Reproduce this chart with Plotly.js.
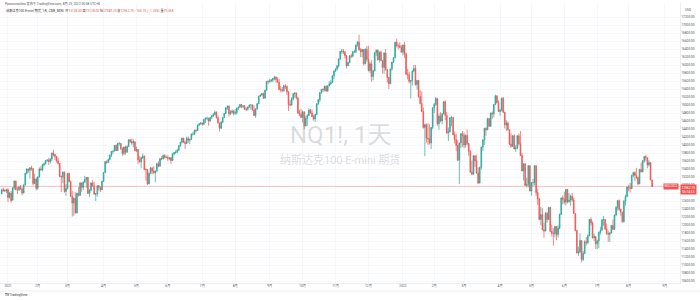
<!DOCTYPE html>
<html><head><meta charset="utf-8">
<script src="https://cdn.plot.ly/plotly-3.0.1.min.js"></script>
<style>html,body{margin:0;padding:0;background:#fff;}#chart{width:700px;height:300px;}</style>
</head><body><div id="chart"></div>
<script>
// ---- data (NQ1!, daily, 2020-12-28 .. 2022-08-22) ----
const startDate = '2020-12-28';
const holidays = ['2021-01-01','2021-01-18','2021-02-15','2021-04-02','2021-05-31','2021-07-05','2021-09-06','2021-11-25','2021-12-24','2022-01-17','2022-02-21','2022-04-15','2022-05-30','2022-06-20','2022-07-04','2022-09-05'];

const open = [
12780,12885,12860,12850,
12880,12690,12800,12620,12930,13100,12890,12880,12950,12900,12800,13000,13290,13400,13370,13430,13410,13040,13150,
12920,13200,13400,13380,13510,13530,13610,13620,13590,13650,13800,13760,13710,13600,13540,13210,13200,13320,12840,
12910,13290,13090,12720,12550,12670,12300,12790,12740,13050,12940,13070,13140,13190,12790,12870,13050,12980,12770,12780,12980,12940,12880,
13090,13310,13580,13560,13640,13750,13840,13850,13990,13860,14040,14040,13910,13790,13950,13820,13960,14130,14090,14050,14080,
13860,13890,13630,13580,13680,13720,13390,13380,13030,13290,13430,13350,13300,13350,13530,13470,13660,13650,13740,13690,
13690,13660,13680,13610,13780,13810,13820,13870,13980,14070,14170,14070,14040,14160,14120,14140,14270,14270,14370,14360,14500,14530,
14550,14520,14640,14670,14670,14600,14690,14730,14760,14820,14690,14550,14420,14570,14690,14790,14930,14970,14780,14820,14850,
14790,14810,14920,14950,15010,14960,14970,14890,14890,14950,15000,15000,14880,14740,14900,15030,15220,15250,15290,15170,15370,15590,
15580,15600,15620,15660,15700,15640,15570,15390,15380,15360,15480,15460,15330,15010,15000,15150,15280,15300,15180,14800,14760,
14690,14830,14480,14670,14740,14870,14800,14710,14650,14760,15030,15130,15310,15390,15380,15470,15350,15480,15530,15560,15730,
15850,15900,15980,16150,16340,16350,16320,16230,15980,16060,16230,16220,16330,16330,16500,16570,16380,16330,16390,16030,16390,
16140,15860,16030,15710,15850,16310,16370,16130,16320,16110,15940,16300,15880,15690,15530,15900,16070,16180,16570,16480,16480,16440,
16320,16500,16280,15770,15760,15590,15610,15850,15910,15510,15610,15210,15040,14840,14440,14510,14170,14150,14050,14440,
14930,15020,15160,14530,14720,14600,14780,15080,14740,14300,14330,14680,14690,14260,14130,13990,13620,14050,14280,
14240,14000,14240,14040,13840,13320,13270,13730,13600,13300,13050,13440,13950,14130,14420,14380,14660,14470,14800,14780,15010,15230,15060,
14840,14860,15170,14820,14500,14550,14380,14020,13970,14230,13900,13930,14230,14030,13740,13350,13530,12990,13010,13480,
12850,13060,13060,13480,12810,12650,12140,12260,11880,11850,12290,12140,12440,11840,11790,11780,11960,11760,11920,12260,12680,
12640,12570,12890,12580,12620,12720,12630,12290,11860,11300,11330,11610,11140,11290,11580,11560,11730,12140,12050,11680,11710,
11530,11600,11820,11870,12130,12140,11900,11790,11770,11800,11990,11890,12250,12440,12610,12390,12320,12080,12600,12710,
12950,12940,12910,13240,13310,13240,13190,13030,13390,13330,13610,13710,13680,13500,13560,13128
];
const high = [
12905,12935,12900,12905,
12920,12830,12850,12950,13110,13110,12950,12980,13000,12940,13020,13310,13420,13410,13450,13480,13420,13280,13190,
13220,13440,13470,13520,13560,13620,13650,13680,13670,13810,13880,13780,13730,13690,13550,13240,13340,13340,13020,
13300,13310,13110,12860,12690,12820,12810,12950,13080,13060,13090,13230,13200,13200,12900,13070,13120,13080,12800,12990,13000,12960,13110,
13320,13600,13620,13660,13760,13850,13860,14000,14010,14050,14070,14050,13940,13960,13980,13990,14140,14150,14160,14140,14090,
13960,13900,13720,13710,13790,13740,13420,13400,13310,13450,13440,13470,13360,13560,13590,13680,13720,13760,13770,13740,
13740,13700,13700,13790,13830,13870,13900,13990,14080,14180,14180,14100,14210,14210,14160,14290,14320,14380,14390,14510,14550,14570,
14560,14650,14690,14710,14680,14700,14740,14800,14860,14840,14730,14560,14600,14700,14800,14940,14990,14980,14870,14890,14870,
14900,14930,14960,15020,15030,15000,15000,14940,14960,15010,15020,15010,14990,14920,15050,15230,15270,15300,15310,15380,15600,15620,
15650,15650,15680,15720,15710,15690,15650,15470,15450,15500,15520,15490,15340,15120,15200,15300,15320,15310,15190,14880,14900,
14860,14840,14730,14770,14920,14900,14890,14760,14780,15040,15150,15320,15400,15420,15480,15490,15490,15590,15620,15740,15860,
15920,16000,16170,16350,16400,16400,16350,16250,16080,16240,16280,16350,16380,16510,16600,16760,16420,16400,16400,16420,16480,
16480,16080,16120,15880,16330,16390,16380,16340,16360,16130,16320,16400,15900,15700,15910,16080,16200,16580,16660,16540,16570,16500,
16510,16580,16310,15900,15830,15620,15860,16000,16000,15620,15630,15370,15340,14940,14530,14540,14540,14520,14450,14940,
15050,15200,15170,14780,14820,14790,15100,15120,14820,14440,14690,14720,14700,14340,14280,14120,14060,14300,14350,
14310,14270,14390,14050,13880,13610,13750,13740,13760,13440,13460,13960,14140,14430,14440,14680,14670,14810,14840,15020,15260,15240,15120,
14910,15180,15200,14830,14620,14590,14390,14290,14250,14270,14000,14250,14290,14350,13800,13540,13540,13180,13500,13500,
13070,13150,13500,13490,12900,12680,12450,12420,12060,12330,12330,12460,12450,12010,11920,11980,11970,11990,12290,12680,12740,
12830,12900,12900,12800,12760,12800,12690,12300,11880,11460,11790,11620,11350,11620,11700,11770,12150,12190,12090,11780,11720,
11630,11830,11960,12140,12230,12150,12040,11860,11830,12000,12140,12260,12470,12620,12640,12410,12330,12620,12760,12960,
13010,13050,13260,13330,13340,13430,13200,13400,13560,13620,13720,13760,13680,13620,13570,13128
];
const low = [
12770,12830,12830,12800,
12580,12660,12560,12610,12880,12860,12770,12850,12880,12740,12790,12990,13270,13300,13160,13360,12990,13020,12860,
12880,13190,13360,13340,13460,13510,13580,13500,13540,13600,13720,13620,13560,13510,13200,12820,13040,12810,12730,
12890,13070,12700,12210,12230,12290,12290,12710,12730,12830,12870,13060,12930,12780,12700,12840,12960,12760,12600,12710,12860,12820,12870,
13080,13300,13530,13550,13620,13700,13780,13840,13850,13850,13990,13870,13730,13740,13760,13810,13950,14050,14000,13940,13840,
13820,13520,13560,13420,13650,13370,13110,13000,13020,13270,13260,13290,13070,13330,13440,13460,13620,13640,13660,13670,
13600,13620,13530,13600,13740,13770,13800,13860,13960,14040,14050,13900,14020,14050,14020,14130,14240,14260,14310,14350,14480,14500,
14480,14510,14550,14620,14480,14580,14650,14700,14740,14660,14540,14340,14400,14540,14670,14780,14880,14710,14750,14780,14740,
14760,14760,14870,14920,14920,14920,14870,14850,14860,14930,14880,14860,14720,14680,14880,15020,15200,15230,15150,15160,15360,15520,
15560,15570,15570,15620,15560,15560,15370,15320,15320,15330,15400,15250,14850,14970,14980,15110,15180,15140,14780,14720,14680,
14560,14400,14460,14480,14730,14780,14700,14610,14580,14750,15000,15070,15280,15320,15340,15320,15330,15470,15500,15550,15640,
15820,15860,15930,16130,16280,16270,16160,15910,15970,16040,16170,16190,16300,16300,16460,16360,16200,16190,15980,16020,16080,
15840,15800,15580,15620,15840,16220,16110,16060,16100,15790,15780,15860,15560,15400,15520,15850,16060,16170,16440,16390,16420,16310,
16240,16180,15760,15640,15540,15160,15480,15820,15480,15380,15180,15020,14820,14410,13720,14060,14000,14010,13900,14400,
14800,14980,14480,14380,14570,14520,14770,14620,14270,14100,14320,14470,14240,14040,13840,13600,13020,13920,13950,
13920,13930,13990,13730,13310,13240,13260,13450,13280,13020,13040,13390,13850,14000,14230,14370,14450,14460,14650,14690,15000,15040,14830,
14730,14840,14800,14410,14350,14360,14000,13930,13960,13890,13830,13890,13990,13720,13340,13110,12980,12940,12940,12840,
12730,12970,12990,12730,12500,12120,11990,11870,11680,11840,12060,12130,11830,11710,11480,11690,11620,11690,11890,12250,12520,
12520,12490,12540,12560,12480,12580,12280,11840,11290,11230,11290,11070,11100,11270,11480,11520,11720,11990,11660,11600,11400,
11400,11420,11760,11860,11980,11880,11750,11580,11580,11790,11880,11880,12220,12360,12350,12230,12050,12070,12480,12700,
12840,12810,12900,13200,13100,13150,12990,13020,13310,13320,13550,13590,13420,13460,13120,12949
];
const close = [
12880,12860,12850,12880,
12690,12800,12610,12930,13100,12890,12880,12950,12900,12800,13000,13290,13400,13370,13430,13410,13040,13150,12920,
13200,13400,13380,13510,13530,13610,13620,13590,13650,13800,13760,13710,13600,13540,13210,13200,13320,12840,12910,
13290,13090,12720,12550,12670,12300,12790,12740,13050,12940,13070,13140,13190,12790,12870,13050,12980,12770,12780,12980,12940,12880,13090,
13310,13580,13560,13640,13750,13840,13850,13990,13860,14040,14040,13910,13790,13950,13820,13960,14130,14090,14050,14080,13860,
13890,13630,13580,13680,13720,13390,13380,13030,13290,13430,13350,13300,13350,13530,13470,13660,13650,13740,13690,13690,
13660,13680,13610,13780,13810,13820,13870,13980,14070,14170,14070,14040,14160,14120,14140,14270,14270,14370,14360,14500,14530,14550,
14520,14640,14670,14670,14600,14690,14730,14760,14820,14690,14550,14420,14570,14690,14790,14930,14970,14780,14820,14850,14790,
14810,14920,14950,15010,14960,14970,14890,14890,14950,15000,15000,14880,14740,14900,15030,15220,15250,15290,15170,15370,15590,15580,
15600,15620,15660,15700,15640,15570,15390,15380,15360,15480,15460,15330,15010,15000,15150,15280,15300,15180,14800,14760,14690,
14830,14480,14670,14740,14870,14800,14710,14650,14760,15030,15130,15310,15390,15380,15470,15350,15480,15530,15560,15730,15850,
15900,15980,16150,16340,16350,16320,16230,15980,16060,16230,16220,16330,16330,16500,16570,16380,16330,16390,16030,16390,16140,
15860,16030,15710,15850,16310,16370,16130,16320,16110,15940,16300,15880,15690,15530,15900,16070,16180,16570,16480,16480,16440,16320,
16500,16280,15770,15760,15590,15610,15850,15910,15510,15610,15210,15040,14840,14440,14510,14170,14150,14050,14440,14930,
15020,15160,14530,14720,14600,14780,15080,14740,14300,14330,14680,14690,14260,14130,13990,13620,14050,14280,14240,
14000,14240,14040,13840,13320,13270,13730,13600,13300,13050,13440,13950,14130,14420,14380,14660,14470,14800,14780,15010,15230,15060,14840,
14860,15170,14820,14500,14550,14380,14020,13970,14230,13900,13930,14230,14030,13740,13350,13530,12990,13010,13480,12850,
13060,13060,13480,12810,12650,12140,12260,11880,11850,12290,12140,12440,11840,11790,11780,11960,11760,11920,12260,12680,12640,
12570,12890,12580,12620,12720,12630,12290,11860,11300,11330,11610,11140,11290,11580,11560,11730,12140,12050,11680,11710,11530,
11600,11820,11870,12130,12140,11900,11790,11770,11800,11990,11890,12250,12440,12610,12390,12320,12080,12600,12710,12950,
12940,12910,13240,13310,13240,13190,13030,13390,13330,13610,13710,13680,13500,13560,13128,12962.75
];

const monthKeys = ['2021-01','2021-02','2021-03','2021-04','2021-05','2021-06','2021-07','2021-08','2021-09','2021-10','2021-11','2021-12',
                   '2022-01','2022-02','2022-03','2022-04','2022-05','2022-06','2022-07','2022-08','2022-09'];
const monthLabels = ['2021','2月','3月','4月','5月','6月','7月','8月','9月','10月','11月','12月',
                     '2022','2月','3月','4月','5月','6月','7月','8月','9月'];
const priceTicks = [10600,10800,11000,11200,11400,11600,11800,12000,12200,12400,12600,12800,13000,13200,13400,13600,13800,
                    14000,14200,14400,14600,14800,15000,15200,15400,15600,15800,16000,16200,16400,16600,16800,17000,17200];
const lastPrice = 12962.75;
const headerTop = 'Pocoruncolors 发布于 TradingView.com, 8月 23, 2022 00:58 UTC+8';
const headerName = '纳斯达克100 E-mini 期货, 1天, CME_MINI';
const headerVals = [['开','13128.00'],['高','13128.00'],['低','12949.25'],['收','12962.75']];
const headerChg = '−165.75 (−1.26%)';
const headerVol = ['量','79.36K'];

// ---- trading-day calendar ----
function buildDays(start, n, skip){
  const out=[]; const d=new Date(start+'T00:00:00Z');
  while(out.length<n){
    const wd=d.getUTCDay(); const s=d.toISOString().slice(0,10);
    if(wd!==0 && wd!==6 && !skip.includes(s)) out.push(s);
    d.setUTCDate(d.getUTCDate()+1);
  }
  return out;
}
const n = Math.min(open.length, high.length, low.length, close.length);
const axisDays = buildDays(startDate, n+40, holidays);
const xIdx = axisDays.slice(0,n).map((d,i)=>i);
const tickIdx = monthKeys.map(k => axisDays.findIndex(d => d.startsWith(k)));

// ---- layout helpers (plot area: x 0..680, y 3..283) ----
const PW=680, PT=3, PB=283;
const px = x => x/PW;
const py = y => (PB-y)/(PB-PT);
const UP='#26a69a', DN='#ef5350';
const FONT="Roboto, 'Noto Sans CJK SC', sans-serif";

const trace = {
  type:'candlestick', x:xIdx, open:open.slice(0,n), high:high.slice(0,n), low:low.slice(0,n), close:close.slice(0,n),
  increasing:{line:{color:UP,width:0.7},fillcolor:UP},
  decreasing:{line:{color:DN,width:0.7},fillcolor:DN},
  whiskerwidth:0, hoverinfo:'skip', showlegend:false
};

const valsHtml = headerVals.map(v=>v[0]+'<span style="color:'+DN+'">'+v[1]+'</span>').join(' ')
  + ' <span style="color:'+DN+'">'+headerChg+'</span> ' + headerVol[0]+'<span style="color:'+DN+'">'+headerVol[1]+'</span>';

const ann = [
  {xref:'paper',yref:'paper',x:px(340),y:py(135),text:'NQ1!, 1天',showarrow:false,
   font:{family:FONT,size:24,color:'rgba(140,145,155,0.32)'}},
  {xref:'paper',yref:'paper',x:px(340),y:py(160),text:'纳斯达克100 E-mini 期货',showarrow:false,
   font:{family:FONT,size:11,color:'rgba(140,145,155,0.32)'}},
  {xref:'paper',yref:'paper',x:px(3),y:py(3.5),xanchor:'left',yanchor:'middle',text:headerTop,showarrow:false,
   font:{family:FONT,size:3.2,color:'#555'}},
  {xref:'paper',yref:'paper',x:px(4),y:py(10),xanchor:'left',yanchor:'middle',text:headerName+'  '+valsHtml,showarrow:false,
   font:{family:FONT,size:3.2,color:'#333'}},
  {xref:'paper',yref:'paper',x:px(683),y:py(10),xanchor:'left',yanchor:'middle',text:'USD',showarrow:false,
   font:{family:FONT,size:3.2,color:'#555'}},
  {xref:'paper',yref:'y',x:1,y:lastPrice,xanchor:'left',yanchor:'top',yshift:2,
   text:lastPrice.toFixed(2)+'<br>06:14:53',showarrow:false,bgcolor:DN,borderpad:0.6,
   font:{family:FONT,size:3.2,color:'#fff'}},
  {xref:'paper',yref:'y',x:px(679),y:lastPrice,xanchor:'right',yanchor:'middle',
   text:'NQU2022',showarrow:false,bgcolor:DN,borderpad:0.4,
   font:{family:FONT,size:3,color:'#fff'}},
  {xref:'paper',yref:'paper',x:px(3),y:py(295),xanchor:'left',yanchor:'middle',text:'<b>TV</b> TradingView',showarrow:false,
   font:{family:FONT,size:3.2,color:'#333'}}
];

const shapes = [
  {type:'line',xref:'paper',yref:'y',x0:0,x1:1,y0:lastPrice,y1:lastPrice,line:{color:'rgba(239,83,80,0.4)',width:0.8}},
  {type:'line',xref:'paper',yref:'paper',x0:0,x1:px(700),y0:py(291),y1:py(291),line:{color:'#e0e3eb',width:0.6}}
];

const layout = {
  width:700,height:300,margin:{l:0,r:20,t:PT,b:300-PB},
  paper_bgcolor:'#fff',plot_bgcolor:'#fff',showlegend:false,dragmode:false,
  font:{family:FONT,size:3.2,color:'#555'},
  xaxis:{type:'linear',range:[-1.1,432.8],rangeslider:{visible:false},
    tickmode:'array',tickvals:tickIdx,ticktext:monthLabels,ticks:'',
    showgrid:true,gridcolor:'#f0f2f6',gridwidth:0.6,zeroline:false,
    showline:true,linecolor:'#e0e3eb',linewidth:0.6,
    tickfont:{family:FONT,size:3.2,color:'#555'}},
  yaxis:{side:'right',range:[10550,17550],tickmode:'array',tickvals:priceTicks,tickformat:'.2f',ticks:'',
    showgrid:true,gridcolor:'#f0f2f6',gridwidth:0.6,zeroline:false,
    showline:true,linecolor:'#e0e3eb',linewidth:0.6,
    tickfont:{family:FONT,size:3.2,color:'#555'}},
  annotations:ann, shapes:shapes
};

Plotly.newPlot('chart',[trace],layout,{staticPlot:true,displayModeBar:false});
</script>
</body></html>
